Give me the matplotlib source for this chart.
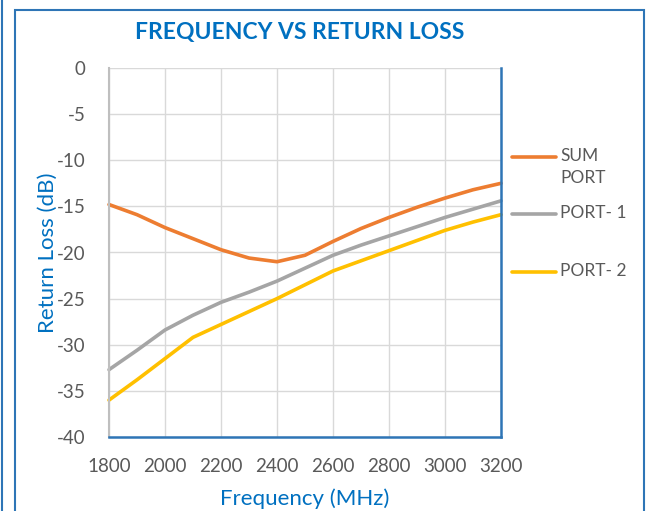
import matplotlib.pyplot as plt
from matplotlib.patches import Rectangle
from matplotlib.lines import Line2D

freq = [1800, 1900, 2000, 2100, 2200, 2300, 2400, 2500, 2600, 2700, 2800, 2900, 3000, 3100, 3200]
sum_port = [-14.8, -15.9, -17.3, -18.5, -19.7, -20.6, -21.0, -20.3, -18.8, -17.4, -16.2, -15.1, -14.1, -13.2, -12.5]
port1 = [-32.7, -30.6, -28.4, -26.8, -25.4, -24.3, -23.1, -21.7, -20.3, -19.2, -18.2, -17.2, -16.2, -15.3, -14.4]
port2 = [-36.0, -33.8, -31.5, -29.2, -27.8, -26.4, -25.0, -23.5, -22.0, -20.9, -19.8, -18.7, -17.6, -16.7, -15.9]
names = ['SUM\nPORT', 'PORT- 1', 'PORT- 2']
colors = ['#ED7D31', '#A5A5A5', '#FFC000']
xticks = [1800, 2000, 2200, 2400, 2600, 2800, 3000, 3200]
yticks = [0, -5, -10, -15, -20, -25, -30, -35, -40]

blue = '#0070C0'
plt.rcParams['font.family'] = ['Lato', 'DejaVu Sans']
plt.rcParams['axes.unicode_minus'] = False

fig = plt.figure(figsize=(6.48, 5.11), dpi=100)
ax = fig.add_axes([109/648, 1-437/511, 392/648, 369/511])

for ys, c in zip([sum_port, port1, port2], colors):
    ax.plot(freq, ys, color=c, lw=2.6, solid_capstyle='round', clip_on=False)

ax.set_xlim(1800, 3200)
ax.set_ylim(-40, 0)
ax.set_xticks(xticks)
ax.set_yticks(yticks)
ax.grid(color='#D9D9D9', lw=1)
ax.tick_params(length=0, labelsize=13.5, labelcolor='#595959')
ax.tick_params(axis='y', pad=17)
ax.tick_params(axis='x', pad=15)

ax.spines['top'].set_visible(False)
ax.spines['left'].set_color('#BFBFBF')
ax.spines['left'].set_linewidth(1.5)
ax.spines['bottom'].set_color('#2E75B6')
ax.spines['bottom'].set_linewidth(1.8)
ax.spines['right'].set_color('#2E75B6')
ax.spines['right'].set_linewidth(1.8)

ax.set_xlabel('Frequency (MHz)', color=blue, fontsize=16, labelpad=10)
ax.set_ylabel('Return Loss (dB)', color=blue, fontsize=16, labelpad=-1)
fig.text(300/648, 1-32/511, 'FREQUENCY VS RETURN LOSS', color=blue,
         fontsize=16.5, fontweight='bold', ha='center', va='center')

# legend on the right
leg_y = [157, 214, 272]
for name, c, yp in zip(names, colors, leg_y):
    fig.lines.append(Line2D([512/648, 556/648], [1-yp/511, 1-yp/511],
                            color=c, lw=2.6, solid_capstyle='round', transform=fig.transFigure))
    fig.text(560/648, 1-(yp-9)/511, name, color='#595959', fontsize=12.5,
             ha='left', va='top', linespacing=1.45)

# chart frame
fig.patches.append(Rectangle((15/648, -0.05), 629/648, 1.05-10/511, fill=False,
                             edgecolor='#2E75B6', lw=1.5, transform=fig.transFigure))
fig.lines.append(Line2D([1.5/648, 1.5/648], [0, 1], color='#2E75B6', lw=1.5,
                        transform=fig.transFigure))

fig.savefig('out.png', dpi=100)
